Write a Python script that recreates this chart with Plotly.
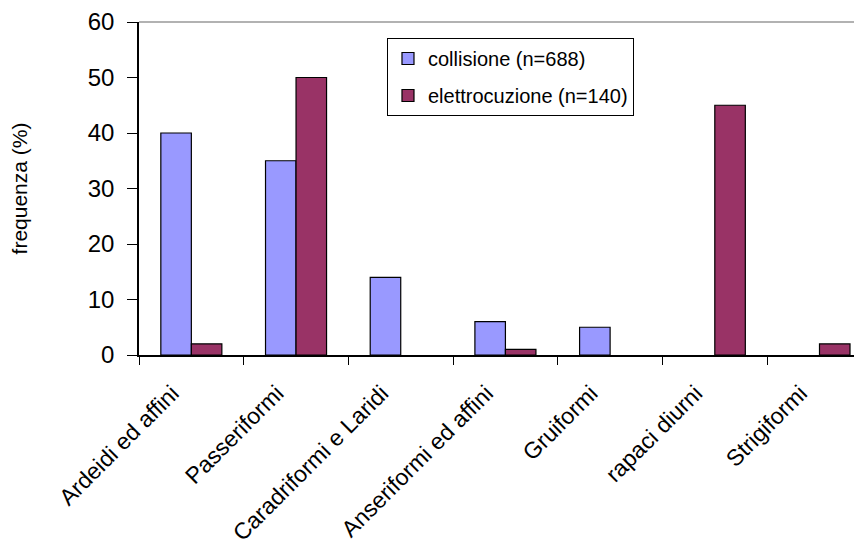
import plotly.graph_objects as go

categories = ["Ardeidi ed affini", "Passeriformi", "Caradriformi e Laridi",
              "Anseriformi ed affini", "Gruiformi", "rapaci diurni", "Strigiformi"]
collisione = [40, 35, 14, 6, 5, 0, 0]
elettrocuzione = [2, 50, 0, 1, 0, 45, 2]
series_names = ["collisione (n=688)", "elettrocuzione (n=140)"]
y_ticks = [0, 10, 20, 30, 40, 50, 60]

FONT = "Liberation Sans, Arial, sans-serif"


def outline(values):
    # no outline for empty (zero) bars, as in the original
    return [1.2 if v > 0 else 0 for v in values]


fig = go.Figure()
fig.add_trace(go.Bar(x=categories, y=collisione, name=series_names[0],
                     marker=dict(color="#9999FF",
                                 line=dict(color="#000000", width=outline(collisione))),
                     legendgroup="a"))
fig.add_trace(go.Bar(x=categories, y=elettrocuzione, name=series_names[1],
                     marker=dict(color="#993366",
                                 line=dict(color="#000000", width=outline(elettrocuzione))),
                     legendgroup="b"))

fig.update_layout(
    width=854, height=543,
    margin=dict(l=131, r=0, t=14, b=196),
    paper_bgcolor="white", plot_bgcolor="white",
    barmode="group", bargap=0.417, bargroupgap=0,
    font=dict(family=FONT, color="#000000"),
    showlegend=True,
    legend=dict(x=0.343, y=0.952, xanchor="left", yanchor="top",
                bordercolor="#000000", borderwidth=1, bgcolor="white",
                font=dict(size=20, family=FONT), tracegroupgap=8,
                traceorder="grouped"),
    xaxis=dict(range=[-0.5, 6.406], tickson="boundaries", ticks="outside",
               ticklen=8, tickcolor="#000000", tickwidth=1.2,
               showline=True, linecolor="#000000", linewidth=1.5,
               tickangle=-45, tickfont=dict(size=23, family=FONT),
               ticklabelshift=-19, ticklabelstandoff=14,
               showgrid=False, zeroline=False, automargin=False),
    yaxis=dict(range=[0, 60], tickvals=y_ticks, ticks="outside", ticklen=10,
               tickcolor="#000000", tickwidth=1.2,
               showline=True, linecolor="#000000", linewidth=1.5,
               tickfont=dict(size=24, family=FONT), ticklabelstandoff=8,
               showgrid=False, zeroline=False, automargin=False,
               title=dict(text="frequenza (%)", font=dict(size=21, family=FONT), standoff=54)),
    shapes=[dict(type="line", xref="paper", yref="paper", x0=0, x1=1, y0=1, y1=1,
                 line=dict(color="#999999", width=1.5))],
)

fig.write_html("out.html")
